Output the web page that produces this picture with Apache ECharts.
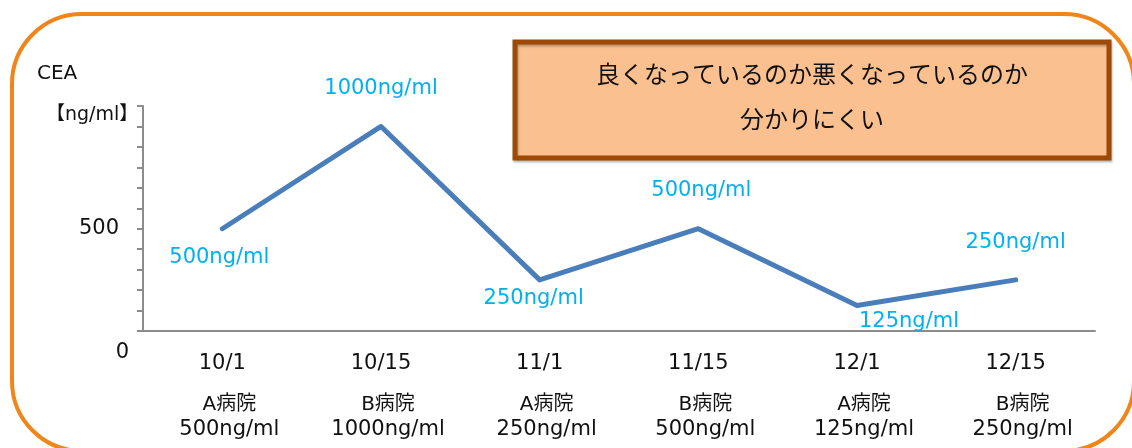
<!DOCTYPE html>
<html>
<head>
<meta charset="utf-8">
<script src="https://cdn.jsdelivr.net/npm/echarts@6/dist/echarts.min.js"></script>
<style>
  html, body { margin: 0; padding: 0; background: #fff; }
  #chart { width: 1132px; height: 448px; }
</style>
</head>
<body>
<div id="chart"></div>
<script>
// データ
var dates = ['10/1', '10/15', '11/1', '11/15', '12/1', '12/15'];
var hospitals = ['A病院', 'B病院', 'A病院', 'B病院', 'A病院', 'B病院'];
var ceaValues = [500, 1000, 250, 500, 125, 250];
var unit = 'ng/ml';
var yTicks = [0, 500];

var FONT = '"DejaVu Sans", "Noto Sans CJK JP", sans-serif';
var JP_FONT = '"Noto Sans CJK JP", sans-serif';
// ラベルの位置調整（点からのずれ）
var labelOffsets = [[-3, 29], [0, -38], [-6, 19], [3, -38], [52, 16], [0, -37]];

var chart = echarts.init(document.getElementById('chart'));

var seriesData = ceaValues.map(function (v, i) {
  return {
    value: v,
    label: { offset: labelOffsets[i] }
  };
});

var option = {
  backgroundColor: '#fff',
  animation: false,
  grid: { left: 143, right: 37, top: 106, bottom: 117 },
  xAxis: {
    type: 'category',
    data: dates,
    axisLine: { lineStyle: { color: '#8c8c8c', width: 2 } },
    axisTick: { show: false },
    axisLabel: {
      margin: 5,
      fontFamily: FONT,
      color: '#111',
      formatter: function (val, idx) {
        return '{d|' + val + '}\n{h|' + hospitals[idx] + '}\n{v|' + ceaValues[idx] + unit + '}';
      },
      rich: {
        d: { fontSize: 21, lineHeight: 56, fontFamily: FONT, color: '#111' },
        h: { fontSize: 20, lineHeight: 25, fontFamily: FONT, color: '#111', padding: [0, 0, 0, 14] },
        v: { fontSize: 21, lineHeight: 25, fontFamily: FONT, color: '#111', padding: [0, 0, 0, 14] }
      }
    }
  },
  yAxis: {
    type: 'value',
    min: 0,
    max: 1100,
    interval: 100,
    axisLine: { show: true, lineStyle: { color: '#8c8c8c', width: 2 } },
    axisTick: { show: true, length: 6, lineStyle: { color: '#8c8c8c', width: 2 } },
    splitLine: { show: false },
    axisLabel: {
      margin: 24,
      fontSize: 21,
      fontFamily: FONT,
      color: '#111',
      padding: [5, 0, 0, 0],
      formatter: function (v) {
        return (v === yTicks[1]) ? String(v) : '';
      }
    }
  },
  series: [{
    type: 'line',
    data: seriesData,
    symbol: 'circle',
    symbolSize: 1,
    showSymbol: true,
    itemStyle: { color: '#4a7ebb' },
    lineStyle: { color: '#4a7ebb', width: 5, cap: 'round', join: 'round' },
    label: {
      show: true,
      position: 'inside',
      fontSize: 21,
      fontFamily: FONT,
      color: '#00b0f0',
      formatter: function (p) { return p.value + unit; }
    }
  }],
  graphic: [
    {
      type: 'rect',
      shape: { x: 12, y: 14, width: 1122, height: 437, r: 70 },
      style: { fill: 'none', stroke: '#f0851a', lineWidth: 4 },
      silent: true
    },
    {
      type: 'rect',
      shape: { x: 515, y: 42, width: 594, height: 116 },
      style: {
        fill: '#fac090', stroke: '#9c4a06', lineWidth: 5,
        shadowColor: 'rgba(0,0,0,0.25)', shadowOffsetX: 1, shadowOffsetY: 2, shadowBlur: 2
      }
    },
    {
      type: 'text',
      x: 812, y: 74,
      style: { text: '良くなっているのか悪くなっているのか', fontSize: 24, fontFamily: JP_FONT, fill: '#111', align: 'center', verticalAlign: 'middle' }
    },
    {
      type: 'text',
      x: 812, y: 119,
      style: { text: '分かりにくい', fontSize: 24, fontFamily: JP_FONT, fill: '#111', align: 'center', verticalAlign: 'middle' }
    },
    {
      type: 'text',
      x: 37, y: 74,
      style: { text: 'CEA', fontSize: 20, fontFamily: FONT, fill: '#111', verticalAlign: 'middle' }
    },
    {
      type: 'text',
      x: 46, y: 115,
      style: { text: '【' + unit + '】', fontSize: 19, fontFamily: FONT, fill: '#111', verticalAlign: 'middle' }
    },
    {
      type: 'text',
      x: 129, y: 353,
      style: { text: String(yTicks[0]), fontSize: 21, fontFamily: FONT, fill: '#111', align: 'right', verticalAlign: 'middle' }
    }
  ]
};

chart.setOption(option);
</script>
</body>
</html>
